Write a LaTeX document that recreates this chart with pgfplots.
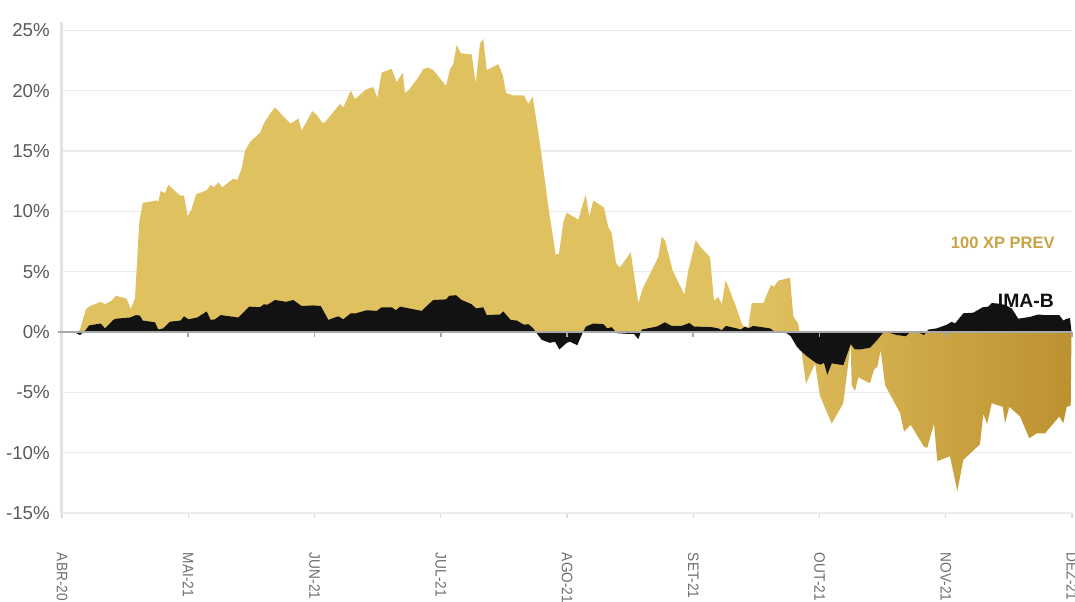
\documentclass[border=0pt]{standalone}
\usepackage{pgfplots}
\pgfplotsset{compat=1.18}
\usepackage{fontspec}
\setmainfont{Liberation Sans}
\definecolor{gridgray}{HTML}{EBEBEB}
\definecolor{axisgray}{HTML}{E2E2E2}
\definecolor{tickgray}{HTML}{DADADA}
\definecolor{zerogray}{HTML}{A9A9A9}
\definecolor{ylabcol}{HTML}{5A5A5A}
\definecolor{xlabcol}{HTML}{6E6E6E}
\definecolor{legendgold}{HTML}{C9A344}
\definecolor{imablack}{HTML}{121212}
\newcommand{\lab}[1]{\scalebox{0.9}[1]{#1}}
\pgfdeclarehorizontalshading{goldgrad}{100bp}{rgb(0bp)=(0.878,0.757,0.376); rgb(59bp)=(0.878,0.757,0.376); rgb(75bp)=(0.741,0.569,0.184); rgb(100bp)=(0.741,0.569,0.184)}
\begin{document}
\begin{tikzpicture}
\begin{axis}[
  scale only axis, width=757.5pt, height=368.25pt,
  xmin=0, xmax=1010, ymin=-15, ymax=25.69,
  axis lines*=left, axis line style={-},
  x axis line style={draw=gridgray, line width=1.1pt},
  y axis line style={draw=axisgray, line width=2.25pt},
  xtick={0,126.25,252.5,378.75,505,631.25,757.5,883.75,1010},
  xticklabels={\lab{ABR-20},\lab{MAI-21},\lab{JUN-21},\lab{JUL-21},\lab{AGO-21},\lab{SET-21},\lab{OUT-21},\lab{NOV-21},\lab{DEZ-21}},
  ytick={-15,-10,-5,0,5,10,15,20,25},
  yticklabels={-15\%,-10\%,-5\%,0\%,5\%,10\%,15\%,20\%,25\%},
  ymajorgrids, grid style={draw=gridgray, line width=1.1pt},
  tick align=outside, major tick length=3.75pt,
  xtick style={draw=tickgray, line width=1.1pt},
  ytick style={draw=none},
  yticklabel style={font=\fontsize{14}{15}\selectfont, text=ylabcol, anchor=east, inner sep=0pt},
  yticklabel shift=5.25pt,
  xticklabel style={font=\fontsize{11.4}{12}\selectfont, text=xlabcol, rotate=-90, anchor=west, inner sep=0pt},
  xticklabel shift=26pt,
  clip=false,
]
% 100 XP PREV
\addplot[draw=none, shade, shading=goldgrad] coordinates {
(15,0) (18,0.2) (24,1.9) (28,2.15) (38.7,2.5) (43,2.3) (49.7,2.6) (54,3.0) (64.7,2.75) (68.7,1.9) (73,2.8) (77.3,9.1) (80.7,10.7) (94.7,10.9) (96.3,10.8) (98.7,11.7) (103,11.5) (106.3,12.2) (118,11.3) (122,11.3) (125.7,9.6) (129.7,10.2) (134,11.4) (144.7,11.75) (148.7,12.2) (152,12.0) (156.3,12.4) (160.3,12.0) (171.3,12.7) (175.3,12.6) (179.7,13.55) (183,15.0) (188,15.75) (198,16.5) (202,17.3) (207.3,18.0) (213,18.6) (228,17.3) (231.3,17.4) (236.3,17.7) (239.7,16.7) (250.3,18.3) (254.7,18.0) (259.7,17.4) (262,17.3) (268,17.9) (278,18.9) (281.3,18.6) (288.7,20.0) (293,19.3) (304,20.1) (311.3,20.3) (315.3,19.4) (319.7,21.5) (329.7,21.8) (334.7,20.7) (340.7,21.5) (343,19.8) (346.3,20.0) (356.3,21.1) (361.3,21.8) (366.3,21.9) (371.3,21.7) (384,20.4) (388,21.75) (391.3,22.2) (394.7,23.8) (398.7,23.1) (409.7,23.0) (413.7,20.6) (418,23.9) (421.3,24.3) (424.7,21.7) (436.3,22.2) (440.7,21.3) (444,19.8) (451.3,19.6) (462,19.6) (466.3,18.9) (470.7,19.5) (478,15.6) (486.3,10.4) (493.7,6.4) (497,6.5) (501.3,9.1) (504.7,9.9) (516.3,9.3) (523.7,11.4) (527.3,9.55) (531.3,10.9) (542,10.3) (546.3,8.7) (549.7,8.2) (554,5.7) (558,5.35) (568.7,6.6) (576.3,2.4) (580.7,3.6) (596.3,6.2) (599.7,7.9) (603,7.6) (610.7,5.1) (622.3,3.1) (626.3,5.1) (633.7,7.6) (638,7.1) (648,6.2) (652,2.6) (656.3,2.9) (659.7,2.3) (663.7,4.3) (674,2.1) (679.7,0.7) (683,0.35) (686.3,0.45) (689.7,2.4) (701.3,2.4) (709,3.9) (712,3.75) (716.3,4.25) (728,4.5) (731.3,1.3) (736.3,0.66) (737.5,0) (739.7,-1.7) (744,-4.3) (753,-2.6) (758,-5.3) (769.7,-7.6) (781.3,-5.9) (788.7,-1.0) (789.7,-4.4) (793,-4.9) (796.3,-3.75) (808,-4.25) (812,-3.1) (815.3,-2.9) (818.7,-1.5) (823,-4.4) (838,-6.7) (842,-8.25) (848.7,-7.7) (862,-9.5) (865.3,-9.6) (872,-7.6) (875.3,-10.7) (888,-10.3) (895.3,-13.2) (901.3,-10.6) (918,-9.3) (921.3,-6.8) (925.3,-7.6) (929.7,-5.9) (940.7,-6.2) (943,-7.55) (947.3,-6.2) (958,-7.0) (967.3,-8.8) (974.7,-8.4) (983,-8.4) (997.3,-7.0) (1001.3,-7.55) (1004.7,-6.2) (1008.7,-6.1) (1009.5,0)
} \closedcycle;
% IMA-B
\addplot[draw=none, fill=imablack] coordinates {
(0,0) (12,0) (18,-0.25) (23,0.1) (27.3,0.55) (38.7,0.7) (43,0.3) (51.3,1.0) (54,1.1) (68,1.2) (74,1.4) (78,1.35) (80.7,0.95) (93,0.8) (96.3,0.2) (101.3,0.3) (108,0.85) (118.7,0.95) (122,1.3) (126.3,1.05) (135.3,1.2) (144.7,1.7) (148.7,1.0) (153,1.05) (158.7,1.4) (176.3,1.2) (180.7,1.55) (187.3,2.1) (198,2.05) (202,2.3) (205.3,2.25) (213,2.65) (224,2.5) (231.3,2.65) (239.7,2.15) (250.7,2.2) (258.7,2.15) (264.7,1.27) (266.3,1.0) (276.3,1.3) (281.3,1.05) (288.7,1.55) (294,1.55) (304.7,1.8) (314.7,1.75) (319.7,2.05) (329.7,2.05) (334,1.8) (338,2.1) (359.7,1.75) (364.7,2.15) (371.3,2.65) (384,2.7) (387.3,3.0) (394,3.05) (399.7,2.65) (409.7,2.3) (414,1.95) (421.3,2.05) (424.7,1.4) (438,1.45) (441.3,1.7) (448.7,1.0) (454.7,0.95) (462,0.6) (466.3,0.65) (471.3,0.3) (474.7,-0.1) (479.7,-0.65) (488,-0.9) (493,-0.8) (497.3,-1.45) (504.7,-0.9) (508,-0.8) (515.3,-1.1) (520.7,-0.05) (524,0.45) (531.3,0.7) (541.3,0.65) (545.3,0.3) (549.7,0.4) (554.7,-0.1) (564.7,-0.15) (572,-0.15) (576.3,-0.6) (579.7,0.2) (594.7,0.45) (603,0.8) (609.7,0.5) (619.7,0.5) (627.3,0.75) (632,0.45) (649.7,0.4) (656.3,0.3) (659.7,0.15) (664,0.5) (674.7,0.3) (678.7,0.2) (683,0.45) (686.3,0.3) (691.3,0.5) (708,0.3) (713,0.0) (724.7,-0.1) (728.7,-0.35) (734.7,-1.2) (738,-1.5) (744.7,-2.0) (754.7,-2.6) (758.7,-2.7) (762,-2.55) (765.3,-3.55) (769.7,-2.6) (781.3,-2.75) (788.7,-1.0) (793,-1.45) (798,-1.45) (808,-1.3) (814.7,-0.7) (820.7,-0.1) (824.7,0.0) (834.7,-0.25) (844,-0.35) (848,0) (858,-0.1) (862,-0.25) (866.3,0.2) (874.7,0.3) (884.7,0.6) (889.7,0.85) (893,0.7) (901.3,1.55) (911.3,1.6) (920.7,2.05) (926.3,2.1) (929.7,2.4) (936.3,2.35) (943,2.25) (949.7,1.95) (956.3,1.1) (968,1.25) (976.3,1.45) (983,1.4) (997.3,1.4) (1001.3,0.95) (1004.7,1.1) (1008,1.15) (1009.5,0)
} \closedcycle;
% zero line and its ticks
\draw[zerogray, line width=1.9pt] (axis cs:-4,0) -- (axis cs:1010,0);
\draw[zerogray, line width=1.3pt] (axis cs:126.25,0) -- (axis cs:126.25,-0.42);
\draw[zerogray, line width=1.3pt] (axis cs:252.5,0) -- (axis cs:252.5,-0.42);
\draw[zerogray, line width=1.3pt] (axis cs:378.75,0) -- (axis cs:378.75,-0.42);
\draw[zerogray, line width=1.3pt] (axis cs:505,0) -- (axis cs:505,-0.42);
\draw[zerogray, line width=1.3pt] (axis cs:631.25,0) -- (axis cs:631.25,-0.42);
\draw[zerogray, line width=1.3pt] (axis cs:757.5,0) -- (axis cs:757.5,-0.42);
\draw[zerogray, line width=1.3pt] (axis cs:883.75,0) -- (axis cs:883.75,-0.42);
\draw[zerogray, line width=1.3pt] (axis cs:1010,0) -- (axis cs:1010,-0.42);
% series labels
\node[anchor=base east, inner sep=0pt, text=legendgold, font=\bfseries\fontsize{12.4}{13}\selectfont] at (axis cs:993,6.96) {100 XP PREV};
\node[anchor=base east, inner sep=0pt, text=imablack, font=\bfseries\fontsize{14.5}{15}\selectfont] at (axis cs:992,1.99) {IMA-B};
\end{axis}
\pgfresetboundingbox
\path (current axis.south west) ++(-46.5pt,-66.75pt) rectangle ++(806.25pt,451.5pt);
\end{tikzpicture}
\end{document}
